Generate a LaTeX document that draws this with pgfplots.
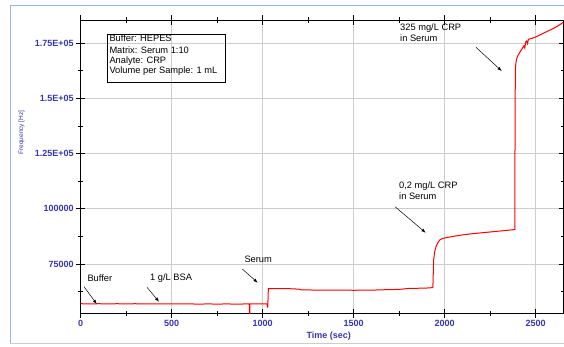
\documentclass[border=0pt]{standalone}
\usepackage{pgfplots}
\pgfplotsset{compat=1.18}
\usepackage{fontspec}
\setmainfont{Liberation Sans}
\definecolor{axblue}{RGB}{55,55,175}
\definecolor{frameblue}{RGB}{150,180,220}
\definecolor{gridgray}{RGB}{205,205,205}
\begin{document}
\begin{tikzpicture}[x=1pt,y=1pt]
\useasboundingbox (0,0) rectangle (564,346);
\fill[white] (0,0) rectangle (564,346);
\draw[frameblue,line width=1pt] (10,3) -- (10,340);
\draw[frameblue,line width=1pt] (10,340) -- (566,340);
\draw[gray!40,line width=0.6pt] (10,3) -- (566,3);
\begin{axis}[
  at={(80.7pt,33pt)}, anchor=south west,
  scale only axis, width=482.3pt, height=293pt,
  xmin=0, xmax=2650, ymin=52800, ymax=185500,
  xtick={0,500,1000,1500,2000,2500},
  minor xtick={250,750,1250,1750,2250},
  ytick={75000,100000,125000,150000,175000},
  yticklabels={75000,100000,1.25E+05,1.5E+05,1.75E+05},
  minor ytick={62500,87500,112500,137500,162500},
  scaled y ticks=false,
  xmajorgrids, ymajorgrids,
  grid style={gridgray, line width=0.9pt},
  tick align=center,
  major tick length=9pt, minor tick length=5pt,
  every tick/.style={black, line width=0.8pt},
  axis line style={black, line width=0.9pt},
  tick label style={font=\fontsize{9}{10}\selectfont\bfseries, text=axblue},
  xticklabel style={yshift=1pt},
  yticklabel style={xshift=1pt},
  /pgf/number format/assume math mode=true,
  xticklabel={\pgfmathprintnumber[assume math mode=true,1000 sep={}]{\tick}},
  clip=true,
]
\addplot[red, line width=1pt] coordinates {
(0,57000) (50,56950) (100,57000) (150,56950) (200,57000) (250,56950) (300,57000)
(350,56900) (400,56950) (450,56900) (500,56950) (550,56900) (600,56900) (650,56850)
(700,56900) (750,56850) (800,56900) (850,56850) (926,56900)
(927,51000) (929,51000) (930,56900)
(980,56900) (1024,56950) (1026,55500) (1028,55600) (1031,63800)
(1060,63800) (1100,63850) (1150,63800) (1200,63600) (1214,63250) (1300,63200)
(1400,63150) (1500,63100) (1600,63150) (1650,63300) (1700,63400) (1750,63500)
(1800,63900) (1850,64000) (1900,64100) (1935,64300)
(1937,70000) (1939,76800) (1945,80500) (1952,82800) (1962,84600) (1974,86000)
(1990,86600) (2020,87100) (2060,87700) (2100,88200) (2150,88700) (2200,89100)
(2250,89500) (2300,89900) (2350,90300) (2385,90600)
(2387,150000) (2389,164400) (2393,167000) (2399,168900) (2410,170500)
(2425,172500) (2435,173800) (2440,172800) (2445,175500) (2450,176000)
(2455,174800) (2460,176800) (2480,177200) (2500,177800) (2520,178600)
(2542,179500) (2570,180600) (2600,181800) (2625,183000) (2650,184300)
};
\end{axis}
% axis labels
\node[rotate=90, text=axblue, font=\fontsize{6.5}{7}\selectfont] at (21.5,213.5) {Frequency [Hz]};
\node[text=axblue, font=\fontsize{9}{10}\selectfont\bfseries] at (328.7,10.3) {Time (sec)};
% info box
\draw[black, line width=0.8pt] (107.3,311.8) rectangle (225.7,263.7);
\begin{scope}[every node/.style={anchor=west, inner sep=0pt, font=\fontsize{9.3}{10}\selectfont}]
\node at (109.3,307.7) {Buffer: HEPES};
\node at (109.3,296.0) {Matrix: Serum 1:10};
\node at (109.3,285.3) {Analyte: CRP};
\node at (109.3,275.3) {Volume per Sample: 1 mL};
% annotations
\node at (87.3,67.7) {Buffer};
\node at (150,67.7) {1 g/L BSA};
\node at (244.3,86.7) {Serum};
\node at (399,160) {0,2 mg/L CRP};
\node at (399,149.5) {in Serum};
\node at (400,318.3) {325 mg/L CRP};
\node at (400,307.7) {in Serum};
\end{scope}
\begin{scope}[-latex, black, line width=0.5pt]
\draw (84,59.3) -- (96.7,42);
\draw (147,58.7) -- (159,44.3);
\draw (242.3,77) -- (257.7,63.3);
\draw (395,139.3) -- (425.7,113.3);
\draw (476,298.7) -- (501.7,275);
\end{scope}
\end{tikzpicture}
\end{document}
